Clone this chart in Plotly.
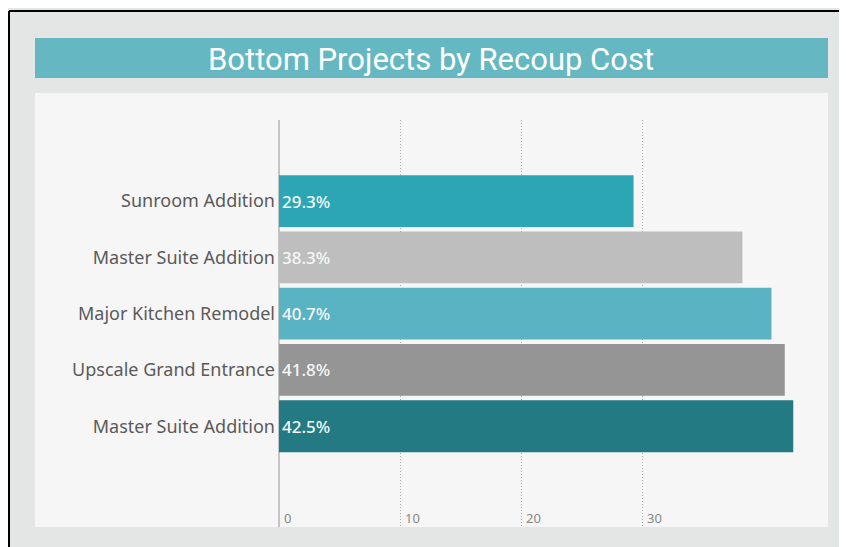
import plotly.graph_objects as go

# ---- data ----
categories = ["Sunroom Addition", "Master Suite Addition", "Major Kitchen Remodel",
              "Upscale Grand Entrance", "Master Suite Addition"]
recoup_pct = [29.3, 38.3, 40.7, 41.8, 42.5]
bar_colors = ["#2ca6b4", "#bebebe", "#5ab3c2", "#959595", "#237a82"]
x_tick_vals = [0, 10, 20, 30]
x_tick_text = ["0", "10", "20", "30"]
title_text = "Bottom Projects by Recoup Cost"

W, H = 847, 547
OFF = 8  # page body margin
L, R, T, B = 279 - OFF, 828 - OFF, 120 - OFF, 527 - OFF  # plot area in px


def px_x(x):
    return (x - OFF - L) / (R - L)


def px_y(y):
    return (B - (y - OFF)) / (B - T)


positions = list(range(len(categories)))

fig = go.Figure()
fig.add_trace(go.Bar(
    x=recoup_pct,
    y=positions,
    orientation="h",
    marker=dict(color=bar_colors, line=dict(width=0)),
    texttemplate="%{x:.1f}%",
    textposition="inside",
    insidetextanchor="start",
    textfont=dict(family="Noto Sans", size=17, color="#f4f8f8", weight=500),
    hoverinfo="skip",
    width=0.92,
))

shapes = [
    # content panel
    dict(type="rect", xref="paper", yref="paper", layer="below",
         x0=px_x(35), x1=px_x(828), y0=px_y(93), y1=px_y(527),
         fillcolor="#f6f6f6", line=dict(width=0)),
    # title bar
    dict(type="rect", xref="paper", yref="paper", layer="below",
         x0=px_x(35), x1=px_x(828), y0=px_y(38), y1=px_y(78),
         fillcolor="#65b8c2", line=dict(width=0)),
    # outer frame
    dict(type="line", xref="paper", yref="paper",
         x0=px_x(9), x1=px_x(9), y0=px_y(11), y1=px_y(570),
         line=dict(color="#000000", width=2)),
    dict(type="line", xref="paper", yref="paper",
         x0=px_x(9), x1=px_x(870), y0=px_y(11), y1=px_y(11),
         line=dict(color="#000000", width=2)),
]

fig.update_layout(
    width=W, height=H,
    margin=dict(l=L, r=W - R, t=T, b=H - B, pad=0),
    paper_bgcolor="#e4e6e6",
    plot_bgcolor="rgba(0,0,0,0)",
    showlegend=False,
    shapes=shapes,
    bargap=0.08,
    annotations=[dict(
        text=title_text, xref="paper", yref="paper",
        x=px_x(431), y=px_y(59), xanchor="center", yanchor="middle",
        showarrow=False,
        font=dict(family="Roboto", size=31, color="#ffffff", weight=400),
    )],
    xaxis=dict(
        range=[0, (R - L) / 12.1],
        tickvals=x_tick_vals, ticktext=x_tick_text,
        ticklabelposition="inside right",
        ticklabelshift=5,
        ticklabelstandoff=-5,
        tickfont=dict(family="Noto Sans", size=13, color="#888888"),
        showgrid=True, gridcolor="#a8a8a8", griddash="1px,2px", gridwidth=1,
        zeroline=True, zerolinecolor="#c4c4c4", zerolinewidth=2,
        showline=False, ticks="", fixedrange=True,
    ),
    yaxis=dict(
        range=[5.79, -1.44],
        tickvals=positions, ticktext=categories,
        tickfont=dict(family="Noto Sans", size=18, color="#5a5a5a"),
        ticklabelstandoff=3,
        showgrid=False, zeroline=False, showline=False, ticks="",
        fixedrange=True,
    ),
)

fig.write_html("out.html")
